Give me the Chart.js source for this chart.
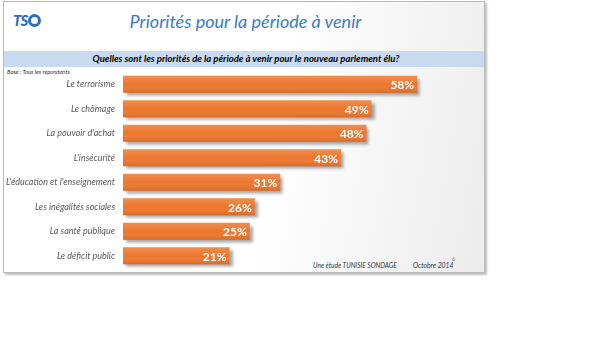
<!DOCTYPE html>
<html>
<head>
<meta charset="utf-8">
<script src="https://cdn.jsdelivr.net/npm/chart.js@4.4.0/dist/chart.umd.min.js"></script>
<style>
  body { margin: 0; background: #fff; width: 600px; height: 338px; position: relative; overflow: hidden; font-family: Lato, "Open Sans", sans-serif; }
  #frame {
    position: absolute; left: 3px; top: 1px; width: 480px; height: 270px;
    border: 1px solid #b8b8b8;
    box-shadow: 2px 2px 2px rgba(0,0,0,0.25);
    background: linear-gradient(100deg, #ffffff 55%, #ececec 100%);
  }
  #band { position: absolute; left: 4px; top: 51px; width: 480px; height: 16px; background: #c9daf0; }
  .txt { position: absolute; white-space: nowrap; font-style: italic; }
  #logo { left: 13px; top: 11px; font-size: 15px; font-weight: 900; color: #2f6fb8; letter-spacing: -1px; }
  #logo span { display: inline-block; width: 13px; height: 13px; border: 3px solid #2f6fb8; border-radius: 50%; box-sizing: border-box; vertical-align: -1px; margin-left: 1px; }
  #title { left: 0; width: 491px; text-align: center; top: 10px; font-size: 18px; color: #3a7bc8; }
  #question { left: 4px; width: 484px; text-align: center; top: 53px; font-size: 9.5px; font-weight: bold; color: #000; }
  #base { left: 7px; top: 68px; font-size: 5.8px; color: #333; }
  #source { left: 313px; top: 261px; font-size: 6.6px; color: #333; }
  #date { left: 413px; top: 261px; font-size: 6.8px; color: #333; }
  #page { left: 452px; top: 256px; font-size: 5px; color: #555; }
  #wrap { position: absolute; left: 0; top: 0; width: 600px; height: 338px; }
</style>
</head>
<body>
<div id="frame"></div>
<div id="band"></div>
<div class="txt" id="logo">TS<span></span></div>
<div class="txt" id="title">Priorités pour la période à venir</div>
<div class="txt" id="question">Quelles sont les priorités de la période à venir pour le nouveau parlement élu?</div>
<div class="txt" id="base">Base : Tous les répondants</div>
<div class="txt" id="source">Une étude TUNISIE SONDAGE</div>
<div class="txt" id="date">Octobre 2014</div>
<div class="txt" id="page">6</div>
<div id="wrap"><canvas id="myChart"></canvas></div>
<script>
const categories = [
  "Le terrorisme",
  "Le chômage",
  "La pouvoir d'achat",
  "L'insécurité",
  "L'éducation et l'enseignement",
  "Les inégalités sociales",
  "La santé publique",
  "Le déficit public"
];
const values = [58, 49, 48, 43, 31, 26, 25, 21];

const ctx = document.getElementById("myChart");

// soft drop shadow under the bars
const barShadow = {
  id: "barShadow",
  beforeDatasetsDraw(chart) {
    const c = chart.ctx;
    c.save();
    c.shadowColor = "rgba(0,0,0,0.35)";
    c.shadowBlur = 3;
    c.shadowOffsetX = 3;
    c.shadowOffsetY = 3;
  },
  afterDatasetsDraw(chart) {
    const c = chart.ctx;
    c.restore();
    // gradient overlay + value labels
    const meta = chart.getDatasetMeta(0);
    meta.data.forEach((bar, i) => {
      const top = bar.y - bar.height / 2;
      const bottom = bar.y + bar.height / 2;
      const g = c.createLinearGradient(0, top, 0, bottom);
      g.addColorStop(0, "rgba(255,255,255,0.18)");
      g.addColorStop(0.5, "rgba(255,255,255,0)");
      g.addColorStop(1, "rgba(150,50,0,0.22)");
      c.fillStyle = g;
      c.fillRect(bar.base, top, bar.x - bar.base, bottom - top);
      c.fillStyle = "#fff";
      c.font = "bold 12px Lato, sans-serif";
      c.textAlign = "right";
      c.textBaseline = "middle";
      c.fillText(values[i] + "%", bar.x - 3, bar.y + 1);
    });
  }
};

const chart = new Chart(ctx, {
  type: "bar",
  data: {
    labels: categories,
    datasets: [
      {
        data: values,
        backgroundColor: "rgb(236,118,44)",
        borderWidth: 0,
        barPercentage: 0.7,
        categoryPercentage: 1,
      },
    ],
  },
  options: {
    indexAxis: "y",
    responsive: true,
    maintainAspectRatio: false,
    animation: false,
    layout: {
      padding: { left: 0, right: 122, top: 72, bottom: 70 },
    },
    plugins: {
      legend: { display: false },
      tooltip: { enabled: false },
    },
    scales: {
      x: { display: false, min: 0, max: 70 },
      y: {
        grid: { display: false, drawTicks: false },
        border: { display: false },
        ticks: {
          color: "#595959",
          padding: 8,
          font: { family: "Lato, sans-serif", size: 9, style: "italic" },
        },
        afterFit(scale) {
          scale.width = 123;
        },
      },
    },
  },
  plugins: [barShadow],
});
</script>
</body>
</html>
